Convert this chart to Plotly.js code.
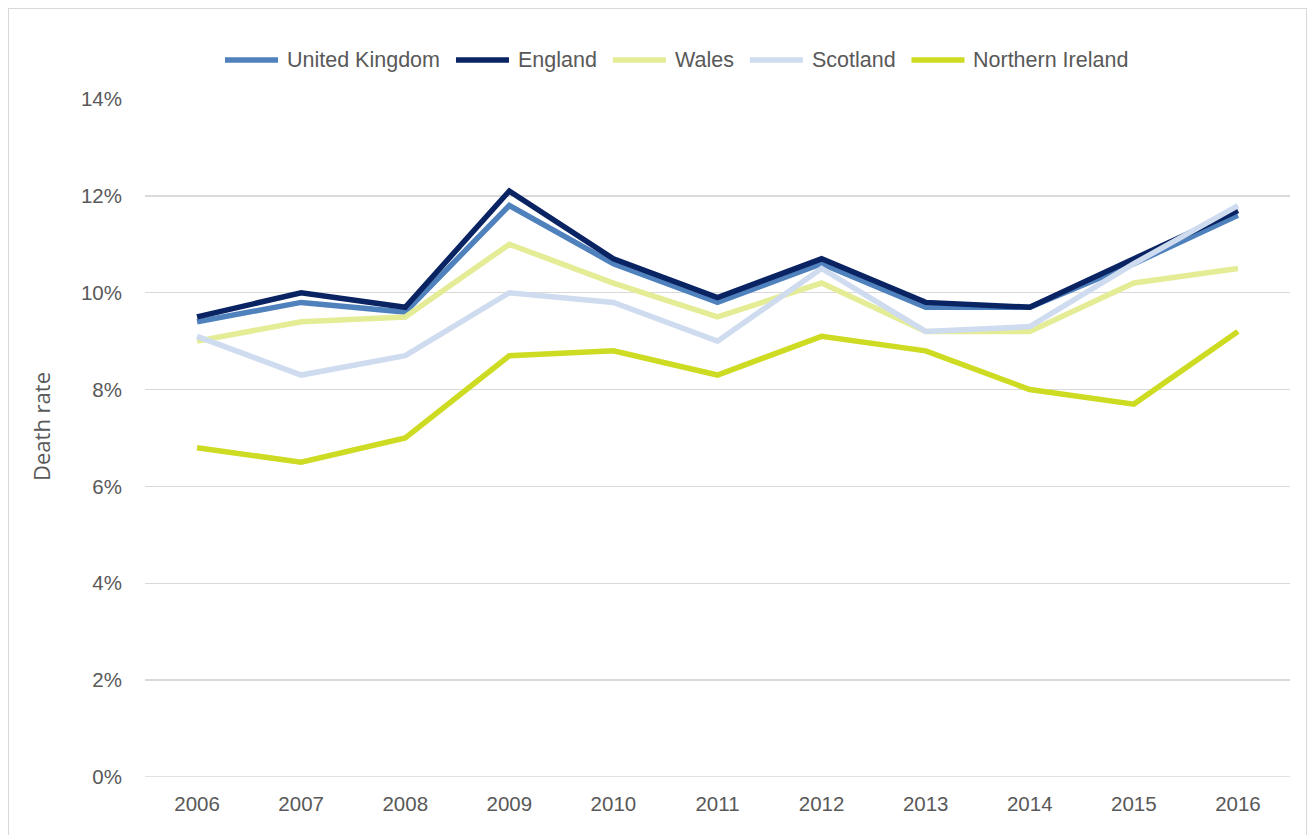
<!DOCTYPE html>
<html>
<head>
<meta charset="utf-8">
<script src="https://cdn.plot.ly/plotly-3.0.1.min.js"></script>
<style>
html,body{margin:0;padding:0;background:#fff;}
#chart{position:absolute;left:0;top:0;width:1307px;height:835px;}
#frame{position:absolute;left:8px;top:8px;width:1297px;height:830px;border:1px solid #d9d9d9;pointer-events:none;}
</style>
</head>
<body>
<div id="chart"></div>
<div id="frame"></div>
<script>
const years = ['2006','2007','2008','2009','2010','2011','2012','2013','2014','2015','2016'];
const unitedKingdom = [9.4, 9.8, 9.6, 11.8, 10.6, 9.8, 10.6, 9.7, 9.7, 10.6, 11.6];
const england = [9.5, 10.0, 9.7, 12.1, 10.7, 9.9, 10.7, 9.8, 9.7, 10.7, 11.7];
const wales = [9.0, 9.4, 9.5, 11.0, 10.2, 9.5, 10.2, 9.2, 9.2, 10.2, 10.5];
const scotland = [9.1, 8.3, 8.7, 10.0, 9.8, 9.0, 10.5, 9.2, 9.3, 10.6, 11.8];
const northernIreland = [6.8, 6.5, 7.0, 8.7, 8.8, 8.3, 9.1, 8.8, 8.0, 7.7, 9.2];
const yTicks = [0, 2, 4, 6, 8, 10, 12, 14];
const yTickLabels = ['0%', '2%', '4%', '6%', '8%', '10%', '12%', '14%'];
const yTitle = 'Death rate';

const series = [
  {name: 'United Kingdom', y: unitedKingdom, color: '#4f81bd'},
  {name: 'England', y: england, color: '#0a2463'},
  {name: 'Wales', y: wales, color: '#e4ec96'},
  {name: 'Scotland', y: scotland, color: '#cfdcf0'},
  {name: 'Northern Ireland', y: northernIreland, color: '#cddb22'}
];

const LW = 5.5;
const traces = series.map(s => ({
  type: 'scatter', mode: 'lines', name: s.name,
  x: years, y: s.y,
  line: {color: s.color, width: LW, shape: 'linear'},
  hoverinfo: 'skip', showlegend: false
}));

const fontFamily = '"Liberation Sans", Arial, sans-serif';
const tickFont = {family: fontFamily, size: 20.5, color: '#595959'};
const legendFontSize = 21.5;

// plot area geometry (pixels)
const M = {l: 145, r: 17, t: 99, b: 58};
const W = 1307, H = 835;
const pw = W - M.l - M.r, ph = H - M.t - M.b;
const px2x = px => (px - M.l) / pw;
const py2y = py => (H - M.b - py) / ph;

// custom legend built from the series names
const cv = document.createElement('canvas').getContext('2d');
cv.font = legendFontSize + 'px "Liberation Sans", Arial, sans-serif';
const sampleW = 53, gapAfterSample = 7, gapAfterText = 18, legendY = 60;
let cx = 225;
const shapes = [{type: 'line', xref: 'paper', yref: 'y', x0: 0, x1: 1, y0: 0, y1: 0, line: {color: '#d9d9d9', width: 1.5}, layer: 'below'}];
const annotations = [];
series.forEach(s => {
  shapes.push({type: 'line', xref: 'paper', yref: 'paper',
    x0: px2x(cx), x1: px2x(cx + sampleW), y0: py2y(legendY), y1: py2y(legendY),
    line: {color: s.color, width: LW}});
  const tx = cx + sampleW + gapAfterSample;
  annotations.push({xref: 'paper', yref: 'paper', x: px2x(tx), y: py2y(legendY),
    xanchor: 'left', yanchor: 'middle', showarrow: false, text: s.name,
    font: {family: fontFamily, size: legendFontSize, color: '#595959'}});
  cx = tx + cv.measureText(s.name).width + gapAfterText;
});

// y axis title
annotations.push({xref: 'paper', yref: 'paper', x: px2x(41), y: py2y(426),
  xanchor: 'center', yanchor: 'middle', textangle: -90, showarrow: false, text: yTitle,
  font: {family: '"Open Sans", "DejaVu Sans", sans-serif', size: 22, color: '#595959'}});

const layout = {
  width: W, height: H,
  margin: M,
  paper_bgcolor: 'rgba(0,0,0,0)', plot_bgcolor: '#fff',
  showlegend: false,
  xaxis: {
    type: 'category', tickvals: years, ticktext: years,
    showgrid: false, zeroline: false, showline: false,
    ticks: '', tickfont: tickFont, ticklabelstandoff: 12,
    range: [-0.5, 10.5], fixedrange: true
  },
  yaxis: {
    range: [0, 14], tickvals: yTicks, ticktext: yTickLabels,
    showgrid: true, gridcolor: '#d9d9d9', gridwidth: 1.5,
    zeroline: false, showline: false, ticks: '',
    tickfont: tickFont, ticklabelstandoff: 22,
    fixedrange: true
  },
  shapes: shapes,
  annotations: annotations
};

Plotly.newPlot('chart', traces, layout, {staticPlot: true, displayModeBar: false});
</script>
</body>
</html>
